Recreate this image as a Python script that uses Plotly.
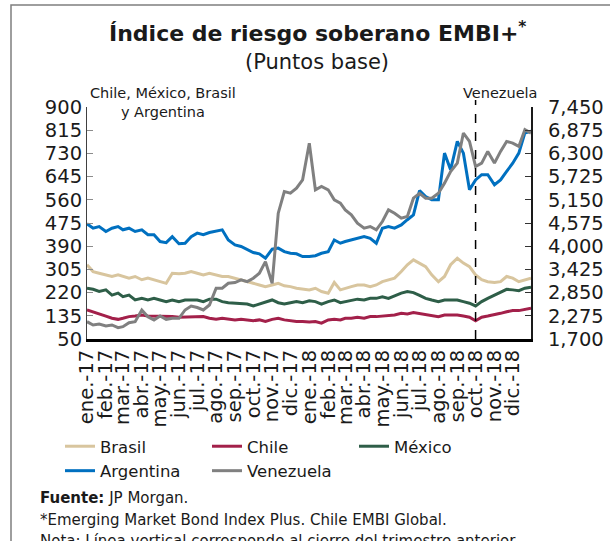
import plotly.graph_objects as go

# fechas: días 1, 11 y 21 de cada mes, más el cierre de 2018
fechas = [f"{a}-{m:02d}-{d:02d}" for a in (2017, 2018) for m in range(1, 13) for d in (1, 11, 21)] + ["2018-12-31"]

brasil = [322, 297, 291, 285, 279, 285, 279, 273, 279, 267, 273, 267,
          260, 254, 291, 289, 291, 297, 291, 285, 291, 285, 279, 279,
          273, 267, 260, 254, 248, 242, 248, 254, 245, 242, 236, 232,
          230, 236, 224, 218, 257, 230, 236, 242, 248, 248, 242, 248,
          260, 267, 273, 297, 322, 340, 328, 315, 285, 260, 279, 322,
          346, 328, 315, 285, 267, 260, 257, 260, 279, 273, 260, 267, 273]

chile = [157, 150, 144, 134, 126, 122, 126, 132, 134, 138, 134, 134,
         132, 134, 132, 130, 130, 132, 130, 132, 126, 122, 126, 122,
         120, 122, 120, 117, 120, 114, 122, 126, 120, 117, 114, 114,
         112, 114, 108, 120, 122, 120, 126, 126, 130, 126, 132, 132,
         134, 138, 138, 144, 142, 147, 143, 138, 134, 132, 138, 138,
         138, 134, 130, 117, 130, 134, 138, 144, 150, 154, 154, 159, 163]

mexico = [236, 232, 224, 230, 211, 218, 205, 211, 193, 199, 193, 199,
          193, 187, 193, 187, 193, 193, 193, 187, 196, 196, 187, 183,
          181, 178, 178, 171, 178, 187, 193, 183, 178, 183, 187, 183,
          190, 187, 178, 187, 193, 183, 187, 193, 196, 193, 199, 199,
          205, 199, 208, 218, 224, 220, 210, 199, 193, 187, 193, 193,
          193, 187, 181, 171, 187, 199, 211, 224, 232, 230, 227, 236, 240]

argentina = [472, 456, 462, 444, 456, 462, 450, 456, 444, 450, 432, 432,
             407, 403, 425, 399, 401, 425, 438, 432, 440, 444, 450, 413,
             395, 389, 377, 367, 362, 346, 379, 383, 370, 364, 362, 352,
             352, 355, 364, 370, 413, 401, 407, 413, 419, 425, 419, 401,
             456, 462, 456, 468, 487, 505, 594, 572, 560, 560, 731, 670,
             774, 731, 597, 633, 652, 652, 615, 633, 664, 694, 731, 805, 811]

venezuela = [2129, 2047, 2071, 2022, 2047, 1981, 2005, 2105, 2129, 2419, 2253, 2171,
             2270, 2187, 2212, 2212, 2419, 2518, 2480, 2419, 2543, 2957, 2957, 3081,
             3098, 3164, 3122, 3205, 3329, 3619, 3081, 4818, 5356, 5315, 5439, 5645,
             6550, 5397, 5480, 5397, 5149, 5066, 4901, 4777, 4570, 4446, 4487, 4404,
             4611, 4901, 4818, 4694, 4735, 5190, 5310, 5190, 5190, 5314, 5563, 5852,
             6059, 6804, 6597, 5976, 6059, 6349, 6059, 6349, 6597, 6556, 6473, 6886, 6804]

meses = [f"{a}-{m:02d}-01" for a in (2017, 2018) for m in range(1, 13)]
etiquetas_mes = [f"{n}-{a}" for a in ("17", "18") for n in
                 ("ene.", "feb.", "mar.", "abr.", "may.", "jun.", "jul.", "ago.", "sep.", "oct.", "nov.", "dic.")]

ticks_izq = [50, 135, 220, 305, 390, 475, 560, 645, 730, 815, 900]
ticks_der = [1700, 2275, 2850, 3425, 4000, 4575, 5150, 5725, 6300, 6875, 7450]

series = [
    ("Brasil", brasil, "#D8C59E", "y"),
    ("Chile", chile, "#A3204A", "y"),
    ("México", mexico, "#2E5E48", "y"),
    ("Argentina", argentina, "#0070C0", "y"),
    ("Venezuela", venezuela, "#808080", "y2"),
]

fuente = "DejaVu Sans"
W, H = 610, 541
L, R, T, B = 87, 531, 107, 339  # área del gráfico en píxeles


def px_x(p):
    return (p - L) / (R - L)


def px_y(p):
    return (B - p) / (B - T)


fig = go.Figure()
for nombre, valores, color, eje in series:
    fig.add_trace(go.Scatter(x=fechas, y=valores, name=nombre, mode="lines",
                             line=dict(color=color, width=3), yaxis=eje))

fig.update_layout(
    width=W, height=H,
    margin=dict(l=L, r=W - R, t=T, b=H - B),
    paper_bgcolor="white", plot_bgcolor="white",
    font=dict(family=fuente, color="#1a1a1a"),
    showlegend=True,
    legend=dict(orientation="h", x=px_x(60), y=px_y(429), xanchor="left", yanchor="top",
                font=dict(size=16.5), entrywidth=102, entrywidthmode="pixels",
                tracegroupgap=0, bgcolor="rgba(0,0,0,0)"),
    xaxis=dict(type="date", range=["2017-01-01", "2018-12-31"], tickvals=meses, ticktext=etiquetas_mes,
               tickangle=-90, tickfont=dict(size=19.5), showline=True, linecolor="black", linewidth=3,
               ticks="", showgrid=False, zeroline=False, automargin=False),
    yaxis=dict(range=[50, 900], tickvals=ticks_izq, ticks="inside", ticklen=6, tickcolor="#8c8c8c",
               showline=True, linecolor="#404040", linewidth=1, showgrid=False, zeroline=False,
               tickfont=dict(size=19.5), automargin=False),
    yaxis2=dict(range=[1700, 7450], tickvals=ticks_der, tickformat=",", overlaying="y", side="right",
                ticks="inside", ticklen=6, tickcolor="#333333", showline=True, linecolor="#1a1a1a",
                linewidth=2, showgrid=False, zeroline=False, tickfont=dict(size=19.5),
                ticklabelstandoff=11, automargin=False),
)

# línea vertical: cierre del trimestre anterior
fig.add_shape(type="line", xref="x", yref="paper", x0="2018-10-01", x1="2018-10-01", y0=0, y1=px_y(100),
              line=dict(color="black", width=1.5, dash="dash"))

# marco
fig.add_shape(type="rect", xref="paper", yref="paper", x0=px_x(11), x1=px_x(700), y0=px_y(600), y1=px_y(5),
              line=dict(color="#7f7f7f", width=1.5), layer="below")

textos = [
    ("<b>Índice de riesgo soberano EMBI+<sup>*</sup></b>", 317, 32, 22, "center"),
    ("(Puntos base)", 317, 62, 21, "center"),
    ("Chile, México, Brasil<br>y Argentina", 163, 102, 14.5, "center"),
    ("Venezuela", 500, 93, 14.5, "center"),
    ("<b>Fuente:</b> JP Morgan.", 38, 498, 15, "left"),
    ("*Emerging Market Bond Index Plus. Chile EMBI Global.", 38, 520, 15, "left"),
    ("Nota: Línea vertical corresponde al cierre del trimestre anterior", 38, 541, 15, "left"),
]
for texto, tx, ty, tam, alin in textos:
    fig.add_annotation(text=texto, xref="paper", yref="paper", x=px_x(tx), y=px_y(ty),
                       xanchor=alin, yanchor="middle", align=alin, showarrow=False,
                       font=dict(size=tam, family=fuente, color="#1a1a1a"))

fig.write_html("out.html", config={"displayModeBar": False},
               post_script="document.body.style.margin='0';")
